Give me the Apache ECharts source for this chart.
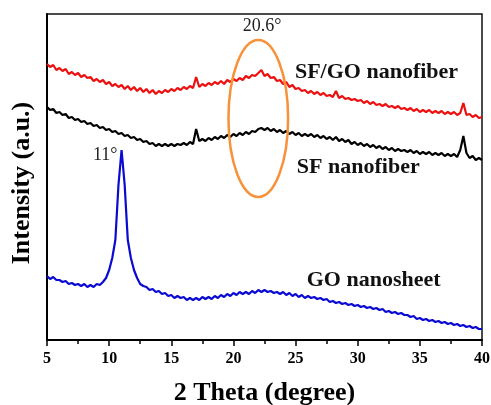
<!DOCTYPE html>
<html><head><meta charset="utf-8">
<script src="https://cdn.jsdelivr.net/npm/echarts@6/dist/echarts.min.js"></script>
<style>html,body{margin:0;padding:0;background:#fff}#c{width:491px;height:405px}</style>
</head><body><div id="c"></div>
<script>
var theta = [
5,5.25,5.5,5.75, 6,6.25,6.5,6.75, 7,7.25,7.5,7.75, 8,8.25,8.5,8.75, 9,9.25,9.5,9.75,
10,10.25,10.5,10.75, 11,11.25,11.5,11.75, 12,12.25,12.5,12.75, 13,13.25,13.5,13.75, 14,14.25,14.5,14.75,
15,15.25,15.5,15.75, 16,16.25,16.5,16.75, 17,17.25,17.5,17.75, 18,18.25,18.5,18.75, 19,19.25,19.5,19.75,
20,20.25,20.5,20.75, 21,21.25,21.5,21.75, 22,22.25,22.5,22.75, 23,23.25,23.5,23.75, 24,24.25,24.5,24.75,
25,25.25,25.5,25.75, 26,26.25,26.5,26.75, 27,27.25,27.5,27.75, 28,28.25,28.5,28.75, 29,29.25,29.5,29.75,
30,30.25,30.5,30.75, 31,31.25,31.5,31.75, 32,32.25,32.5,32.75, 33,33.25,33.5,33.75, 34,34.25,34.5,34.75,
35,35.25,35.5,35.75, 36,36.25,36.5,36.75, 37,37.25,37.5,37.75, 38,38.25,38.5,38.75, 39,39.25,39.5,39.75,
40];

var sfgoI = [
276,273,275,270, 272,269,271,266, 268,265,267,263, 265,262,263,259, 261,258,260,256,
258,254,256,253, 255,251,254,250, 253,249,252,248, 251,247,250,246, 249,247,250,248,
251,249,252,250, 253,251,254,252, 263,253,256,254, 257,255,258,256, 259,256,260,258,
261,259,262,260, 264,262,265,264, 267,270,264,266, 262,263,259,260, 256,258,253,255,
251,252,249,250, 247,249,246,248, 245,247,244,245, 243,249,242,244, 241,242,240,241,
239,240,237,239, 236,238,235,236, 234,236,233,234, 232,234,231,232, 230,232,229,231,
228,230,228,230, 227,229,227,229, 226,228,226,228, 225,227,237,225, 226,223,225,222,
223];

var sfI = [
233,230,231,227, 228,225,226,222, 223,220,221,218, 219,216,217,214, 215,212,213,210,
211,208,209,206, 207,204,205,202, 203,200,201,198, 199,196,197,194, 196,194,196,194,
196,194,196,195, 197,195,198,196, 211,199,201,199, 202,200,203,201, 204,202,205,203,
206,204,207,205, 208,206,209,208, 211,212,210,212, 209,211,208,210, 207,209,206,208,
205,207,204,206, 204,206,203,205, 202,204,201,203, 200,203,199,201, 198,200,196,198,
195,197,194,196, 193,195,192,194, 191,193,190,192, 189,191,189,190, 188,190,187,189,
186,188,186,188, 185,187,185,187, 184,186,184,186, 183,190,204,187, 182,184,180,182,
180];

var goI = [
64,61,63,60, 60,58,59,56, 57,55,56,54, 56,53,55,53, 56,55,58,62,
70,82,100,155, 190,155,100,82, 70,62,56,54, 53,50,51,48, 49,46,47,44,
45,42,44,42, 43,40,42,40, 42,40,43,41, 43,41,44,42, 45,43,46,44,
47,45,48,46, 48,46,49,47, 50,48,50,48, 49,47,48,46, 48,45,47,44,
46,43,45,42, 44,42,43,41, 42,40,41,38, 39,37,38,36, 37,35,36,34,
35,33,34,32, 33,31,32,30, 31,28,29,27, 28,26,27,25, 25,23,24,21,
22,20,21,19, 20,18,19,17, 18,16,17,15, 16,14,15,13, 14,12,13,11,
11];

var xTicks = [5,10,15,20,25,30,35,40];
var seriesNames = ['SF/GO nanofiber','SF nanofiber','GO nanosheet'];
var peakLabels = ['11°','20.6°'];

function pairs(a,b){return a.map(function(v,i){return [v,b[i]];});}

var chart = echarts.init(document.getElementById('c'));
var serif = '"Liberation Serif","Times New Roman",serif';
chart.setOption({
  animation:false,
  grid:{left:47,right:9,top:14,bottom:65,containLabel:false,outerBoundsMode:'none',
    show:true,borderColor:'#111',borderWidth:1.5,backgroundColor:'transparent'},
  xAxis:{type:'value',min:5,max:40,interval:5,
    name:'2 Theta (degree)',nameLocation:'middle',nameGap:40,
    nameTextStyle:{fontFamily:serif,fontWeight:'bold',fontSize:26,color:'#000'},
    axisLine:{lineStyle:{color:'#000',width:2}},
    axisTick:{inside:false,length:6,lineStyle:{color:'#000',width:1.5}},
    minorTick:{show:true,splitNumber:2,length:4,lineStyle:{color:'#000',width:1.5}},
    splitLine:{show:false},
    axisLabel:{fontFamily:serif,fontWeight:'bold',fontSize:16,color:'#000',margin:11,
      formatter:function(v){return xTicks.indexOf(v)>=0?String(v):'';}}
  },
  yAxis:{type:'value',min:0,max:326,
    axisLine:{show:true,lineStyle:{color:'#000',width:2}},
    axisTick:{show:false},axisLabel:{show:false},splitLine:{show:false}
  },
  series:[
    {name:seriesNames[0],type:'line',showSymbol:false,data:pairs(theta,sfgoI),lineStyle:{color:'#ec1010',width:2.2},z:3},
    {name:seriesNames[1],type:'line',showSymbol:false,data:pairs(theta,sfI),lineStyle:{color:'#000000',width:2.2},z:3},
    {name:seriesNames[2],type:'line',showSymbol:false,data:pairs(theta,goI),lineStyle:{color:'#0a0ad2',width:2.2},z:3}
  ]
});

function px(x,y){return chart.convertToPixel({gridIndex:0},[x,y]);}
var c = px(22.0,221.5), e = px(24.4,300);
var rx = e[0]-c[0], ry = c[1]-e[1];
var l1 = px(11,190), l2 = px(22.3,314);
var t1 = px(24.95,268), t2 = px(25.1,173), t3 = px(25.9,60);
chart.setOption({graphic:[
  {type:'ellipse',shape:{cx:c[0],cy:c[1],rx:rx,ry:ry},style:{fill:'none',stroke:'#f7913a',lineWidth:2.5},z:10},
  {type:'text',x:l1[0]-4,y:l1[1]+5,style:{text:peakLabels[0],font:'18px '+serif,fill:'#222',align:'right',verticalAlign:'middle'},z:10},
  {type:'text',x:l2[0],y:l2[1],style:{text:peakLabels[1],font:'18px '+serif,fill:'#222',align:'center',verticalAlign:'middle'},z:10},
  {type:'text',x:t1[0],y:t1[1],style:{text:seriesNames[0],font:'bold 22px '+serif,fill:'#111',verticalAlign:'middle'},z:10},
  {type:'text',x:t2[0],y:t2[1],style:{text:seriesNames[1],font:'bold 22px '+serif,fill:'#111',verticalAlign:'middle'},z:10},
  {type:'text',x:t3[0],y:t3[1],style:{text:seriesNames[2],font:'bold 22px '+serif,fill:'#111',verticalAlign:'middle'},z:10},
  {type:'text',x:22,y:183,rotation:Math.PI/2,style:{text:'Intensity (a.u.)',font:'bold 26px '+serif,fill:'#000',align:'center',verticalAlign:'middle'},z:10}
]});
</script></body></html>
